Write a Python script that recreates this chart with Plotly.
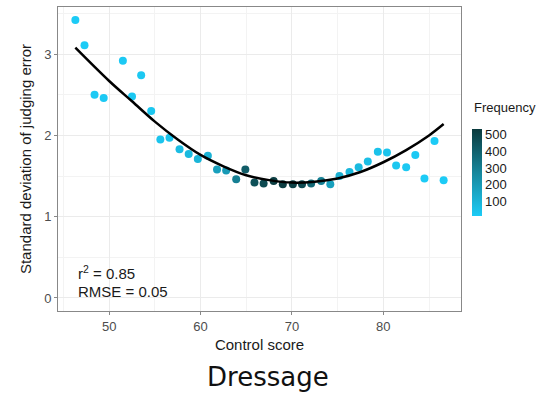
import plotly.graph_objects as go

# Data
control_score = [46.3, 47.3, 48.4, 49.4, 51.5, 52.5, 53.5, 54.6, 55.6, 56.6,
                 57.7, 58.7, 59.7, 60.8, 61.8, 62.8, 63.9, 64.9, 65.9, 66.9,
                 68.0, 69.0, 70.1, 71.1, 72.1, 73.2, 74.2, 75.2, 76.3, 77.3,
                 78.3, 79.4, 80.4, 81.4, 82.5, 83.5, 84.5, 85.6, 86.6]
sd_error = [3.42, 3.11, 2.50, 2.46, 2.92, 2.48, 2.74, 2.30, 1.95, 1.97,
            1.83, 1.77, 1.71, 1.75, 1.58, 1.57, 1.46, 1.58, 1.42, 1.41,
            1.44, 1.40, 1.40, 1.40, 1.41, 1.44, 1.40, 1.50, 1.55, 1.61,
            1.68, 1.80, 1.79, 1.63, 1.61, 1.76, 1.47, 1.93, 1.45]
frequency = [15, 15, 20, 20, 20, 25, 25, 30, 40, 50,
             70, 80, 100, 110, 180, 200, 300, 420, 460, 480,
             520, 520, 510, 480, 380, 300, 180, 120, 90, 80,
             60, 50, 40, 30, 25, 20, 15, 15, 15]

# Fitted curve
fit_x = [46.3, 50, 52.5, 55, 57.5, 60, 62.5, 65, 67.5, 70, 72.5, 75, 77.5, 80, 82.5, 85, 86.6]
fit_y = [3.08, 2.67, 2.42, 2.17, 1.95, 1.76, 1.62, 1.51, 1.45, 1.42, 1.43, 1.47, 1.55, 1.67, 1.82, 2.00, 2.14]

x_ticks = [50, 60, 70, 80]
y_ticks = [0, 1, 2, 3]
cbar_ticks = [100, 200, 300, 400, 500]

FONT = "Liberation Sans, Arial"

fig = go.Figure()

fig.add_trace(go.Scatter(
    x=control_score, y=sd_error, mode="markers",
    marker=dict(
        size=8, color=frequency, cmin=14, cmax=534,
        colorscale=[[0, "#1CCBF6"], [0.5, "#16879C"], [1, "#0B3A3D"]],
        colorbar=dict(
            tickvals=cbar_ticks, ticks="", outlinewidth=0,
            thickness=10, len=87, lenmode="pixels",
            x=1.027, xanchor="left", y=0.3125, yanchor="bottom",
            tickfont=dict(family=FONT, size=13, color="#1a1a1a"),
            xpad=0, ypad=0,
        ),
        line=dict(width=0),
    ),
    showlegend=False, hoverinfo="x+y",
))

fig.add_trace(go.Scatter(
    x=fit_x, y=fit_y, mode="lines", line=dict(color="black", width=2.5, shape="spline"),
    showlegend=False, hoverinfo="skip",
))

axis_common = dict(
    showline=True, linecolor="#888888", linewidth=1, mirror=True,
    ticks="outside", ticklen=3, tickcolor="#888888",
    gridcolor="#EBEBEB", gridwidth=1, zeroline=False, automargin=False,
    tickfont=dict(family=FONT, size=13, color="#4D4D4D"),
)

fig.update_xaxes(
    range=[44.4, 88.5], tickvals=x_ticks,
    title=dict(text="Control score", standoff=6,
               font=dict(family=FONT, size=15, color="#1a1a1a")),
    minor=dict(showgrid=True, gridcolor="#F3F3F3", dtick=5, tick0=45),
    **axis_common,
)
fig.update_yaxes(
    range=[-0.16, 3.58], tickvals=y_ticks,
    title=dict(text="Standard deviation of judging error", standoff=8,
               font=dict(family=FONT, size=15, color="#1a1a1a")),
    minor=dict(showgrid=True, gridcolor="#F3F3F3", dtick=0.5, tick0=0.5),
    **axis_common,
)

fig.add_annotation(x=1.027, y=0.671, xref="paper", yref="paper", xanchor="left", yanchor="middle",
                   text="Frequency", showarrow=False,
                   font=dict(family=FONT, size=13, color="#1a1a1a"))

fig.add_annotation(x=46.4, y=0.31, xref="x", yref="y", xanchor="left", yanchor="middle",
                   text="r<sup>2</sup> = 0.85", showarrow=False,
                   font=dict(family=FONT, size=15, color="#1a1a1a"))
fig.add_annotation(x=46.4, y=0.085, xref="x", yref="y", xanchor="left", yanchor="middle",
                   text="RMSE = 0.05", showarrow=False,
                   font=dict(family=FONT, size=15, color="#1a1a1a"))

fig.add_annotation(x=0.5, y=-0.16, xref="paper", yref="paper", xanchor="center", yanchor="top",
                   xshift=8,
                   text="Dressage", showarrow=False,
                   font=dict(family="DejaVu Sans", size=26, color="#111111"))

fig.update_layout(
    width=541, height=396,
    margin=dict(l=58, r=80, t=7, b=85, autoexpand=False),
    paper_bgcolor="white", plot_bgcolor="white",
)

fig.write_html("out.html", config={"displayModeBar": False},
               post_script="document.body.style.margin='0';document.body.style.padding='0';")
